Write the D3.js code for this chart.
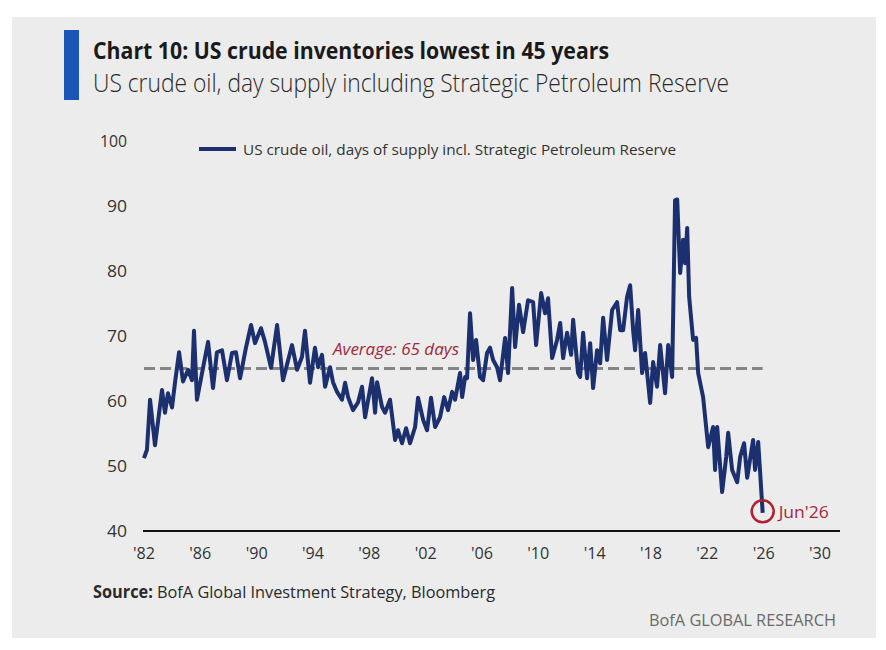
<!DOCTYPE html>
<html>
<head>
<meta charset="utf-8" />
<script src="https://cdn.jsdelivr.net/npm/d3@7"></script>
<style>
  body { margin: 0; background: #fff; }
  text { font-family: "Open Sans", "Noto Sans", sans-serif; }
</style>
</head>
<body>
<script>
// years (decimal) and days of supply
var years = [
  1982.00, 1982.21, 1982.43, 1982.78, 1983.28, 1983.49, 1983.70, 1983.99,
  1984.20, 1984.49, 1984.77, 1985.13, 1985.41, 1985.55, 1985.76, 1986.12,
  1986.55, 1986.90, 1987.18, 1987.54, 1987.89, 1988.25, 1988.53, 1988.82,
  1989.24, 1989.60, 1989.88, 1990.31, 1990.59, 1991.02, 1991.45, 1991.87,
  1992.51, 1992.87, 1993.22, 1993.43, 1993.79, 1994.14, 1994.36, 1994.64,
  1994.86, 1995.21, 1995.42, 1995.71, 1996.06, 1996.28, 1996.49, 1996.84,
  1997.20, 1997.48, 1997.70, 1998.19, 1998.41, 1998.55, 1998.90, 1999.12,
  1999.47, 1999.83, 2000.04, 2000.32, 2000.61, 2000.89, 2001.25, 2001.46,
  2001.82, 2002.10, 2002.38, 2002.67, 2003.02, 2003.31, 2003.59, 2003.88,
  2004.09, 2004.44, 2004.59, 2004.80, 2004.94, 2005.15, 2005.37, 2005.58,
  2005.86, 2006.08, 2006.36, 2006.57, 2006.79, 2007.07, 2007.28, 2007.64,
  2007.85, 2008.14, 2008.35, 2008.63, 2008.92, 2009.27, 2009.63, 2009.84,
  2010.20, 2010.48, 2010.69, 2010.98, 2011.33, 2011.55, 2011.76, 2012.04,
  2012.33, 2012.47, 2012.82, 2012.97, 2013.18, 2013.46, 2013.68, 2013.89,
  2014.17, 2014.39, 2014.60, 2014.88, 2015.24, 2015.59, 2015.81, 2016.02,
  2016.30, 2016.52, 2016.73, 2016.87, 2017.09, 2017.37, 2017.58, 2017.94,
  2018.15, 2018.43, 2018.65, 2019.00, 2019.22, 2019.50, 2019.71, 2019.86,
  2020.07, 2020.28, 2020.42, 2020.57, 2020.71, 2020.99, 2021.20, 2021.35,
  2021.70, 2022.06, 2022.41, 2022.55, 2022.70, 2023.05, 2023.34, 2023.48,
  2023.76, 2024.12, 2024.33, 2024.61, 2024.83, 2025.25, 2025.39, 2025.61,
  2025.93
];
var days = [
  51.2, 52.5, 60.2, 53.2, 61.7, 58.2, 61.2, 59.0,
  62.8, 67.5, 63.0, 64.8, 63.2, 70.8, 60.2, 64.3,
  69.1, 62.0, 67.5, 67.8, 63.2, 67.4, 67.5, 63.5,
  68.2, 71.7, 68.9, 71.2, 69.1, 65.1, 71.7, 63.2,
  68.6, 64.8, 66.8, 70.8, 62.8, 68.2, 65.2, 67.1,
  62.2, 65.2, 62.9, 61.4, 60.2, 62.8, 60.6, 58.6,
  59.8, 62.2, 57.5, 63.5, 58.2, 62.9, 59.1, 58.2,
  60.2, 54.0, 55.5, 53.5, 55.8, 53.5, 56.0, 60.5,
  57.1, 55.5, 60.5, 56.0, 57.5, 60.6, 58.6, 61.4,
  60.2, 64.3, 60.6, 63.7, 63.5, 73.5, 66.3, 69.4,
  63.7, 63.2, 67.4, 68.2, 66.3, 65.2, 63.2, 69.7,
  64.3, 77.4, 68.3, 74.8, 70.6, 75.5, 75.2, 68.6,
  76.6, 73.5, 75.8, 66.6, 69.4, 72.0, 66.6, 70.5,
  67.1, 72.5, 64.3, 63.7, 70.5, 63.5, 68.9, 62.0,
  67.8, 65.8, 72.8, 66.3, 74.0, 75.2, 70.9, 70.9,
  76.0, 77.8, 70.9, 67.8, 74.0, 64.3, 67.4, 59.7,
  66.0, 62.2, 68.6, 61.2, 68.6, 63.7, 90.9, 91.0,
  79.7, 84.8, 81.2, 86.6, 76.0, 69.4, 69.7, 64.3,
  60.6, 52.9, 56.0, 49.4, 56.0, 46.0, 51.4, 55.1,
  49.4, 47.5, 51.4, 53.5, 48.2, 54.0, 49.4, 53.7,
  42.8
];
var yTicks = [40, 50, 60, 70, 80, 90, 100];
var xTicks = [1982, 1986, 1990, 1994, 1998, 2002, 2006, 2010, 2014, 2018, 2022, 2026, 2030];
var average = 65;
var avgRange = [1982, 2025.93];

var W = 886, H = 650;
var svg = d3.select("body").append("svg")
  .attr("width", W).attr("height", H);

// panel
svg.append("rect").attr("x", 12).attr("y", 17).attr("width", 864).attr("height", 621)
  .attr("fill", "#ececec");
svg.append("rect").attr("x", 64).attr("y", 30).attr("width", 15).attr("height", 70)
  .attr("fill", "#1a56b5");

svg.append("text").attr("x", 93).attr("y", 59)
  .attr("font-size", 23).attr("font-weight", "bold").attr("fill", "#1a1a1a")
  .attr("textLength", 516).attr("lengthAdjust", "spacingAndGlyphs")
  .text("Chart 10: US crude inventories lowest in 45 years");
svg.append("text").attr("x", 93).attr("y", 92)
  .attr("font-size", 25).attr("font-weight", 300).attr("fill", "#2a2a2a")
  .attr("textLength", 636).attr("lengthAdjust", "spacingAndGlyphs")
  .text("US crude oil, day supply including Strategic Petroleum Reserve");

var x = d3.scaleLinear().domain([1982, 2030]).range([144, 820]);
var y = d3.scaleLinear().domain([40, 100]).range([531, 141]);

// y labels
svg.selectAll(".ylab").data(yTicks).enter().append("text")
  .attr("class", "ylab")
  .attr("x", 127).attr("y", function(d) { return y(d) + 6; })
  .attr("text-anchor", "end").attr("font-size", 16).attr("fill", "#333")
  .attr("textLength", function(d) { return d === 100 ? 27 : 20; })
  .attr("lengthAdjust", "spacingAndGlyphs")
  .text(function(d) { return d; });

// x labels
svg.selectAll(".xlab").data(xTicks).enter().append("text")
  .attr("class", "xlab")
  .attr("x", function(d) { return x(d); }).attr("y", 559)
  .attr("text-anchor", "middle").attr("font-size", 16).attr("fill", "#333")
  .attr("textLength", 22).attr("lengthAdjust", "spacingAndGlyphs")
  .text(function(d) { return "'" + String(d).slice(2); });

// x axis line
svg.append("line").attr("x1", 143).attr("x2", 840)
  .attr("y1", y(40)).attr("y2", y(40))
  .attr("stroke", "#111").attr("stroke-width", 2);

// average
svg.append("line")
  .attr("x1", x(avgRange[0])).attr("x2", x(avgRange[1]))
  .attr("y1", y(average)).attr("y2", y(average))
  .attr("stroke", "#858585").attr("stroke-width", 3)
  .attr("stroke-dasharray", "11,5");

var data = years.map(function(d, i) { return [d, days[i]]; });
var line = d3.line()
  .x(function(d) { return x(d[0]); })
  .y(function(d) { return y(d[1]); });

svg.append("path").datum(data)
  .attr("d", line)
  .attr("fill", "none").attr("stroke", "#1c2f6f")
  .attr("stroke-width", 4).attr("stroke-linejoin", "round");

svg.append("text").attr("x", 333).attr("y", 355)
  .attr("font-size", 16).attr("font-style", "italic").attr("fill", "#a3283b")
  .attr("textLength", 126).attr("lengthAdjust", "spacingAndGlyphs")
  .text("Average: 65 days");

// last point marker
var last = data[data.length - 1];
svg.append("circle").attr("cx", x(last[0])).attr("cy", y(last[1]) - 1.5).attr("r", 11)
  .attr("fill", "none").attr("stroke", "#b0202e").attr("stroke-width", 2.5);
svg.append("text").attr("x", x(last[0]) + 16).attr("y", y(last[1]) + 5)
  .attr("font-size", 16).attr("fill", "#a3283b")
  .attr("textLength", 50).attr("lengthAdjust", "spacingAndGlyphs")
  .text("Jun'26");

// legend
svg.append("line").attr("x1", 199).attr("x2", 236).attr("y1", 149).attr("y2", 149)
  .attr("stroke", "#1c2f6f").attr("stroke-width", 4);
svg.append("text").attr("x", 243).attr("y", 155)
  .attr("font-size", 15).attr("fill", "#333")
  .attr("textLength", 433).attr("lengthAdjust", "spacingAndGlyphs")
  .text("US crude oil, days of supply incl. Strategic Petroleum Reserve");

// footer
var src = svg.append("text").attr("x", 93).attr("y", 598)
  .attr("font-size", 17).attr("fill", "#2a2a2a")
  .attr("textLength", 402).attr("lengthAdjust", "spacingAndGlyphs");
src.append("tspan").attr("font-weight", "bold").text("Source:");
src.append("tspan").text(" BofA Global Investment Strategy, Bloomberg");

svg.append("text").attr("x", 836).attr("y", 626)
  .attr("text-anchor", "end").attr("font-size", 17).attr("fill", "#6a6a6a")
  .attr("textLength", 187).attr("lengthAdjust", "spacingAndGlyphs")
  .text("BofA GLOBAL RESEARCH");
</script>
</body>
</html>
